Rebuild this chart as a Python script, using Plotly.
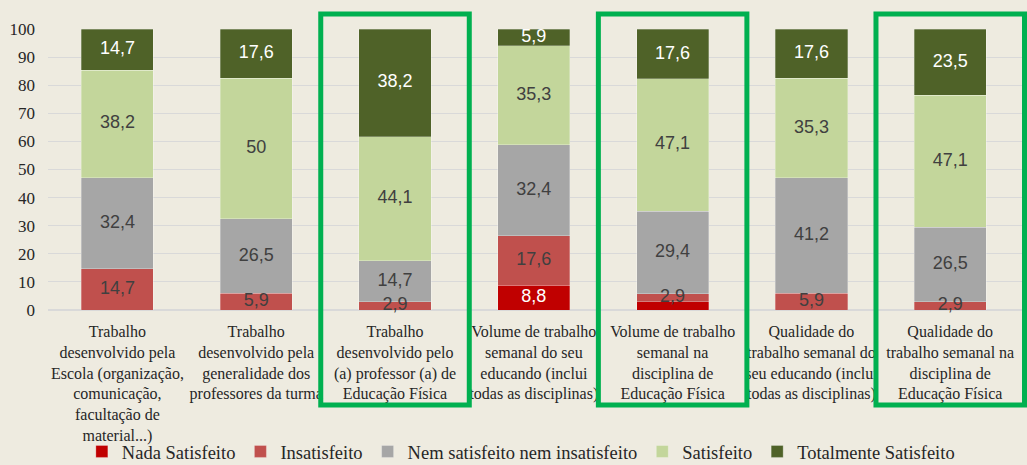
import plotly.graph_objects as go

categories = [
    "Trabalho<br>desenvolvido pela<br>Escola (organização,<br>comunicação,<br>facultação de<br>material...)",
    "Trabalho<br>desenvolvido pela<br>generalidade dos<br>professores da turma",
    "Trabalho<br>desenvolvido pelo<br>(a) professor (a) de<br>Educação Física",
    "Volume de trabalho<br>semanal do seu<br>educando (inclui<br>todas as disciplinas)",
    "Volume de trabalho<br>semanal na<br>disciplina de<br>Educação Física",
    "Qualidade do<br>trabalho semanal do<br>seu educando (inclui<br>todas as disciplinas)",
    "Qualidade do<br>trabalho semanal na<br>disciplina de<br>Educação Física",
]

nada_satisfeito = [0, 0, 0, 8.8, 2.9, 0, 0]
insatisfeito = [14.7, 5.9, 2.9, 17.6, 2.9, 5.9, 2.9]
nem_nem = [32.4, 26.5, 14.7, 32.4, 29.4, 41.2, 26.5]
satisfeito = [38.2, 50, 44.1, 35.3, 47.1, 35.3, 47.1]
totalmente = [14.7, 17.6, 38.2, 5.9, 17.6, 17.6, 23.5]

# which segments carry a printed value
nada_labelled = [False, False, False, True, False, False, False]

highlighted = [2, 4, 6]

y_ticks = list(range(0, 101, 10))

series = [
    ("Nada Satisfeito", nada_satisfeito, "#C00000", "#FFFFFF", nada_labelled),
    ("Insatisfeito", insatisfeito, "#C0504D", "#404040", None),
    ("Nem satisfeito nem insatisfeito", nem_nem, "#A6A6A6", "#404040", None),
    ("Satisfeito", satisfeito, "#C3D69B", "#404040", None),
    ("Totalmente Satisfeito", totalmente, "#4F6228", "#FFFFFF", None),
]

SERIF = "Times New Roman, Liberation Serif, DejaVu Serif, serif"
SANS = "Arial, Liberation Sans, sans-serif"


def fmt(v):
    return f"{v:g}".replace(".", ",")


fig = go.Figure()
base = [0.0] * len(categories)
label_traces = []
for name, vals, color, tcolor, mask in series:
    fig.add_trace(go.Bar(
        name=name,
        x=categories,
        y=vals,
        marker=dict(color=color, line=dict(color="rgba(255,255,255,0.45)", width=0.6)),
        hoverinfo="skip",
    ))
    # value labels sit at the middle of each segment, drawn above all bars
    xs, ys, ts = [], [], []
    for i, v in enumerate(vals):
        if v > 0 and (mask is None or mask[i]):
            xs.append(categories[i])
            ys.append(base[i] + v / 2)
            ts.append(fmt(v))
        base[i] += v
    label_traces.append(go.Scatter(
        x=xs, y=ys, text=ts, mode="text",
        textposition="middle center",
        textfont=dict(family=SANS, size=18, color=tcolor),
        showlegend=False, hoverinfo="skip", cliponaxis=False,
    ))

for tr in label_traces:
    fig.add_trace(tr)

# green frames around the Educação Física columns
for idx in highlighted:
    fig.add_shape(
        type="rect",
        xref="x", yref="paper",
        x0=idx - 0.535, x1=idx + 0.535,
        y0=-0.338, y1=1.053,
        line=dict(color="#00B050", width=5),
        fillcolor="rgba(0,0,0,0)",
        layer="above",
    )

bg = "#EEEBE0"
fig.update_layout(
    width=1027,
    height=465,
    barmode="stack",
    bargap=0.48,
    paper_bgcolor=bg,
    plot_bgcolor=bg,
    margin=dict(l=48, r=0, t=29, b=155, autoexpand=False),
    showlegend=True,
    legend=dict(
        orientation="h",
        traceorder="normal",
        x=0.483, xanchor="center",
        y=-0.505, yanchor="middle",
        font=dict(family=SERIF, size=18.5, color="#262626"),
        itemwidth=30,
        bgcolor="rgba(0,0,0,0)",
    ),
    xaxis=dict(
        type="category",
        automargin=False,
        tickangle=0,
        tickfont=dict(family=SERIF, size=16, color="#262626"),
        showgrid=False,
        showline=False,
        ticks="",
        ticklabelstandoff=10,
    ),
    yaxis=dict(
        range=[0, 100],
        automargin=False,
        tickvals=y_ticks,
        tickfont=dict(family=SERIF, size=17, color="#262626"),
        showgrid=True,
        gridcolor="#D9D9D9",
        gridwidth=1,
        zeroline=True,
        zerolinecolor="#D9D9D9",
        showline=False,
        ticks="",
        ticklabelstandoff=12,
    ),
)

fig.write_html("out.html")
